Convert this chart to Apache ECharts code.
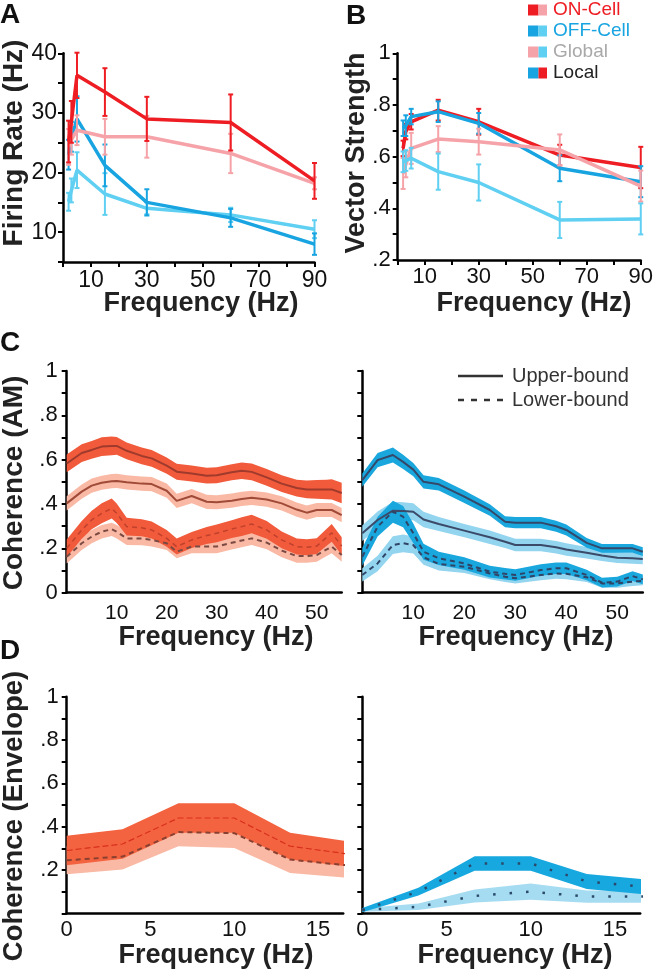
<!DOCTYPE html>
<html><head><meta charset="utf-8">
<script src="https://cdn.jsdelivr.net/npm/echarts@6/dist/echarts.min.js"></script>
<style>html,body{margin:0;padding:0;background:#fff}#c{width:656px;height:972px}</style>
</head><body><div id="c"></div>
<script>
// ---------- Panels A / B ----------
const stimFreqs = [2, 3, 5, 15, 30, 60, 90];
const rateOnLocal = [25.2, 28.5, 36.3, 33.5, 29.0, 28.4, 18.6];
const rateOnLocalErr = [3.5, 3.5, 3.8, 4.0, 3.7, 4.7, 3.0];
const rateOnGlobal = [24.3, 25.5, 27.1, 26.0, 26.0, 23.2, 18.2];
const rateOnGlobalErr = [3.0, 2.5, 2.5, 3.0, 3.5, 3.3, 1.0];
const rateOffLocal = [23.0, 26.0, 29.0, 21.2, 15.0, 12.4, 8.0];
const rateOffLocalErr = [2.5, 2.5, 3.8, 3.5, 2.2, 1.5, 1.8];
const rateOffGlobal = [15.1, 17.0, 20.4, 16.4, 14.0, 12.9, 10.5];
const rateOffGlobalErr = [1.5, 2.0, 3.0, 3.5, 1.0, 1.2, 1.5];

const vsOnLocal = [0.632, 0.697, 0.735, 0.780, 0.735, 0.606, 0.558];
const vsOnLocalErr = [0.03, 0.03, 0.03, 0.04, 0.05, 0.04, 0.08];
const vsOffLocal = [0.710, 0.720, 0.755, 0.774, 0.729, 0.555, 0.503];
const vsOffLocalErr = [0.03, 0.04, 0.03, 0.04, 0.04, 0.05, 0.06];
const vsOnGlobal = [0.535, 0.570, 0.632, 0.668, 0.658, 0.626, 0.486];
const vsOnGlobalErr = [0.06, 0.05, 0.06, 0.05, 0.05, 0.06, 0.06];
const vsOffGlobal = [0.580, 0.585, 0.594, 0.542, 0.500, 0.355, 0.359];
const vsOffGlobalErr = [0.04, 0.04, 0.04, 0.07, 0.07, 0.07, 0.06];

// ---------- Panel C (AM coherence) ----------
const cFreqOn = [0,3,5,7,9,10,12,15,17,20,22,25,28,30,33,35,37,40,43,46,48,50,52,53,55];
const cOnLocalUpper  = [.583,.630,.644,.659,.662,.662,.640,.617,.606,.573,.546,.538,.528,.530,.543,.550,.545,.520,.492,.472,.466,.466,.466,.466,.450];
const cOnGlobalUpper = [.403,.456,.483,.496,.503,.504,.498,.492,.490,.460,.414,.436,.410,.408,.415,.423,.428,.420,.403,.375,.361,.373,.373,.373,.350];
const cOnLocalLower  = [.200,.283,.328,.358,.380,.358,.298,.293,.283,.245,.208,.238,.258,.268,.287,.298,.310,.283,.238,.208,.205,.210,.250,.270,.210];
const cOnGlobalLower = [.162,.223,.253,.275,.286,.275,.245,.244,.238,.223,.185,.208,.208,.208,.225,.235,.245,.226,.190,.165,.165,.170,.195,.208,.170];
const cOnLocalUpperSem  = [.040,.040,.040,.042,.042,.040,.038,.038,.038,.037,.036,.036,.036,.036,.036,.037,.038,.038,.038,.038,.040,.042,.044,.046,.046];
const cOnGlobalUpperSem = [.032,.032,.032,.032,.032,.032,.032,.032,.032,.032,.032,.032,.032,.032,.032,.032,.032,.032,.032,.032,.032,.032,.032,.032,.032];
const cOnLocalLowerSem  = [.040,.040,.042,.045,.045,.044,.040,.038,.038,.038,.036,.036,.038,.040,.040,.042,.042,.040,.038,.036,.036,.036,.038,.040,.040];
const cOnGlobalLowerSem = [.030,.030,.030,.030,.030,.030,.030,.030,.030,.030,.030,.030,.030,.030,.030,.030,.030,.030,.030,.030,.030,.030,.030,.030,.030];

const cFreqOff = [0,3,6,8,10,12,15,20,25,28,30,35,38,40,44,47,50,53,55];
const cOffLocalUpper  = [.508,.598,.621,.590,.555,.500,.489,.433,.373,.320,.316,.316,.300,.283,.225,.200,.200,.200,.185];
const cOffGlobalUpper = [.268,.328,.370,.368,.365,.330,.310,.280,.250,.230,.215,.215,.205,.195,.180,.168,.158,.155,.152];
const cOffLocalLower  = [.162,.298,.365,.343,.268,.185,.155,.132,.095,.085,.080,.102,.110,.110,.080,.045,.050,.075,.060];
const cOffGlobalLower = [.080,.132,.215,.223,.215,.160,.130,.117,.087,.072,.065,.080,.087,.085,.070,.042,.042,.050,.054];
const cOffLocalUpperSem  = [.030,.032,.034,.032,.030,.030,.028,.028,.026,.025,.025,.025,.025,.025,.022,.020,.020,.020,.020];
const cOffGlobalUpperSem = [.035,.038,.040,.040,.038,.035,.032,.030,.030,.028,.028,.028,.028,.028,.026,.025,.024,.024,.024];
const cOffLocalLowerSem  = [.040,.045,.050,.048,.044,.036,.030,.028,.026,.026,.026,.026,.026,.026,.024,.022,.022,.022,.022];
const cOffGlobalLowerSem = [.030,.035,.040,.040,.038,.034,.030,.028,.026,.024,.024,.024,.024,.024,.022,.020,.020,.020,.020];

// ---------- Panel D (envelope coherence) ----------
const dFreq = [0, 3.33, 6.67, 10, 13.33, 16.67];
const dOnLocal = [.290, .320, .440, .440, .310, .275];
const dOnLocalSem = [.068, .068, .068, .068, .062, .058];
const dOnGlobal = [.245, .262, .375, .370, .248, .222];
const dOnGlobalSem = [.065, .060, .065, .068, .062, .058];
const dOffLocal = [.015, .100, .230, .230, .147, .123];
const dOffLocalSem = [.010, .018, .033, .033, .035, .035];
const dOffGlobal = [.015, .030, .080, .100, .077, .077];
const dOffGlobalSem = [.008, .015, .030, .038, .028, .028];

// legend
const legendLabels = ['ON-Cell', 'OFF-Cell', 'Global', 'Local'];
const boundLabels = ['Upper-bound', 'Lower-bound'];

// ---------- colours ----------
const RED = '#ee1d23', PINK = '#f5a3a8', BLUE = '#18a4e0', LBLUE = '#5fcff2';
const C_DARK_R = '#f15b3b', C_LIGHT_R = '#f9b9a5', C_DARK_B = '#19a7de', C_LIGHT_B = '#93d4ef';
const FONT = 'Liberation Sans, Arial, sans-serif';

const chart = echarts.init(document.getElementById('c'), null, {renderer: 'canvas'});

function pairs(xs, ys) { return xs.map((x, i) => [x, ys[i]]); }
function line(g, xs, ys, color, width, type, z) {
  return {type: 'line', xAxisIndex: g, yAxisIndex: g, data: pairs(xs, ys), symbol: 'none',
    lineStyle: {color, width, type: type || 'solid'}, z: z || 5, silent: true, animation: false};
}
function errBars(g, xs, ys, es, color, z) {
  return {type: 'custom', xAxisIndex: g, yAxisIndex: g, z: z || 4, silent: true, animation: false,
    data: xs.map((x, i) => [x, ys[i] - es[i], ys[i] + es[i]]),
    encode: {x: 0, y: [1, 2]},
    renderItem(params, api) {
      const x = api.value(0);
      const lo = api.coord([x, api.value(1)]), hi = api.coord([x, api.value(2)]);
      const w = 2.5, st = {stroke: color, lineWidth: 2};
      return {type: 'group', children: [
        {type: 'line', shape: {x1: lo[0], y1: lo[1], x2: hi[0], y2: hi[1]}, style: st},
        {type: 'line', shape: {x1: lo[0] - w, y1: lo[1], x2: lo[0] + w, y2: lo[1]}, style: st},
        {type: 'line', shape: {x1: hi[0] - w, y1: hi[1], x2: hi[0] + w, y2: hi[1]}, style: st}
      ]};
    }};
}
// shaded band (center +/- half) drawn as one polygon through the axis scales
function band(g, xs, center, half, color, z) {
  return {type: 'custom', xAxisIndex: g, yAxisIndex: g, z, clip: true, silent: true, animation: false,
    data: xs.map((x, i) => [x, center[i] - half[i], center[i] + half[i]]),
    encode: {x: 0, y: [1, 2]},
    renderItem(params, api) {
      if (params.dataIndex !== 0) return null;
      const pts = [];
      for (let i = 0; i < xs.length; i++) pts.push(api.coord([xs[i], center[i] + half[i]]));
      for (let i = xs.length - 1; i >= 0; i--) pts.push(api.coord([xs[i], center[i] - half[i]]));
      return {type: 'polygon', shape: {points: pts}, style: {fill: color}};
    }};
}

const axisLine = {show: true, lineStyle: {color: '#000', width: 2.5}};
function xAxis(g, max, interval, labelFn, opts) {
  return Object.assign({type: 'value', gridIndex: g, min: 0, max, interval,
    axisLine, splitLine: {show: false},
    axisTick: {show: true, length: 5, inside: false, lineStyle: {color: '#000', width: 2}},
    axisLabel: {formatter: labelFn, fontFamily: FONT, fontSize: 22, color: '#111', margin: 6}}, opts || {});
}
function yAxis(g, min, max, interval, labelFn, opts) {
  return Object.assign({type: 'value', gridIndex: g, min, max, interval,
    axisLine, splitLine: {show: false},
    axisTick: {show: true, length: 5, lineStyle: {color: '#000', width: 2}},
    axisLabel: {formatter: labelFn, fontFamily: FONT, fontSize: 22, color: '#111', margin: 7}}, opts || {});
}
const fmtA_y = v => (Math.round(v) % 10 === 0 ? String(Math.round(v)) : '');
const fmtAB_x = v => (Math.round(v) % 20 === 10 ? String(Math.round(v)) : '');
const fmtDec = (showZero) => v => {
  const r = Math.round(v * 10);
  if (r % 2) return '';
  if (r === 0) return showZero ? '0' : '';
  if (r === 10) return '1';
  return '.' + r;
};
const fmtC_x = v => (Math.round(v) % 10 === 0 && v > 0 && Math.abs(v - Math.round(v)) < 1e-6 ? String(Math.round(v)) : '');
const fmtD_x = v => (Math.abs(v - Math.round(v)) < 1e-6 && Math.round(v) % 5 === 0 ? String(Math.round(v)) : '');

const grids = [
  {left: 63, top: 53.3, width: 251.5, height: 208.7},
  {left: 397.7, top: 53.3, width: 245.3, height: 206.7},
  {left: 66.7, top: 371, width: 275, height: 221.7},
  {left: 362.3, top: 371, width: 280.5, height: 221.7},
  {left: 66.7, top: 696.7, width: 276.5, height: 216.6},
  {left: 362.3, top: 696.7, width: 277.9, height: 216.6}
];

const xAxes = [
  xAxis(0, 90, 10, fmtAB_x, {axisLabel: {formatter: fmtAB_x, fontFamily: FONT, fontSize: 23, color: '#111', margin: 7}}),
  xAxis(1, 90, 10, fmtAB_x),
  xAxis(2, 55, 10, fmtC_x, {axisTick: {show: false}, axisLabel: {formatter: fmtC_x, fontFamily: FONT, fontSize: 21, color: '#111', margin: 10}}),
  xAxis(3, 55, 10, fmtC_x, {axisTick: {show: false}, axisLabel: {formatter: fmtC_x, fontFamily: FONT, fontSize: 21, color: '#111', margin: 10}}),
  xAxis(4, 16.5, 5, fmtD_x, {axisTick: {show: false}, axisLabel: {formatter: fmtD_x, fontFamily: FONT, fontSize: 22, color: '#111', margin: 6}}),
  xAxis(5, 16.5, 5, fmtD_x, {axisTick: {show: false}, axisLabel: {formatter: fmtD_x, fontFamily: FONT, fontSize: 22, color: '#111', margin: 6}})
];
const yAxes = [
  yAxis(0, 5, 40, 5, fmtA_y, {axisLabel: {formatter: fmtA_y, fontFamily: FONT, fontSize: 23, color: '#111', margin: 6}}),
  yAxis(1, 0.2, 1, 0.1, fmtDec(false)),
  yAxis(2, 0, 1, 0.1, fmtDec(true), {axisLabel: {formatter: fmtDec(true), fontFamily: FONT, fontSize: 22, color: '#111', margin: 9}}),
  yAxis(3, 0, 1, 0.1, fmtDec(true), {axisLabel: {show: false}}),
  yAxis(4, 0, 1, 0.1, fmtDec(false), {axisLabel: {formatter: fmtDec(false), fontFamily: FONT, fontSize: 22, color: '#111', margin: 8}}),
  yAxis(5, 0, 1, 0.1, fmtDec(false), {axisLabel: {show: false}})
];

const series = [];
// A
series.push(line(0, stimFreqs, rateOffGlobal, LBLUE, 3.5, 'solid', 5), errBars(0, stimFreqs, rateOffGlobal, rateOffGlobalErr, LBLUE, 5));
series.push(line(0, stimFreqs, rateOffLocal, BLUE, 3.5, 'solid', 6), errBars(0, stimFreqs, rateOffLocal, rateOffLocalErr, BLUE, 6));
series.push(line(0, stimFreqs, rateOnGlobal, PINK, 3.5, 'solid', 7), errBars(0, stimFreqs, rateOnGlobal, rateOnGlobalErr, PINK, 7));
series.push(line(0, stimFreqs, rateOnLocal, RED, 3.5, 'solid', 8), errBars(0, stimFreqs, rateOnLocal, rateOnLocalErr, RED, 8));
// B
series.push(line(1, stimFreqs, vsOnLocal, RED, 3.5, 'solid', 5), errBars(1, stimFreqs, vsOnLocal, vsOnLocalErr, RED, 5));
series.push(line(1, stimFreqs, vsOffLocal, BLUE, 3.5, 'solid', 6), errBars(1, stimFreqs, vsOffLocal, vsOffLocalErr, BLUE, 6));
series.push(line(1, stimFreqs, vsOnGlobal, PINK, 3.5, 'solid', 7), errBars(1, stimFreqs, vsOnGlobal, vsOnGlobalErr, PINK, 7));
series.push(line(1, stimFreqs, vsOffGlobal, LBLUE, 3.5, 'solid', 8), errBars(1, stimFreqs, vsOffGlobal, vsOffGlobalErr, LBLUE, 8));
// C left
series.push(band(2, cFreqOn, cOnGlobalUpper, cOnGlobalUpperSem, C_LIGHT_R, 2));
series.push(band(2, cFreqOn, cOnGlobalLower, cOnGlobalLowerSem, C_LIGHT_R, 2));
series.push(band(2, cFreqOn, cOnLocalUpper, cOnLocalUpperSem, C_DARK_R, 3));
series.push(band(2, cFreqOn, cOnLocalLower, cOnLocalLowerSem, C_DARK_R, 3));
series.push(line(2, cFreqOn, cOnLocalUpper, '#a03a2c', 2, 'solid', 6));
series.push(line(2, cFreqOn, cOnGlobalUpper, '#a04a38', 2, 'solid', 6));
series.push(line(2, cFreqOn, cOnLocalLower, '#c0402c', 1.5, [5, 4], 6));
series.push(line(2, cFreqOn, cOnGlobalLower, '#7a4a42', 2, [5, 4], 6));
// C right
series.push(band(3, cFreqOff, cOffGlobalUpper, cOffGlobalUpperSem, C_LIGHT_B, 2));
series.push(band(3, cFreqOff, cOffGlobalLower, cOffGlobalLowerSem, C_LIGHT_B, 2));
series.push(band(3, cFreqOff, cOffLocalUpper, cOffLocalUpperSem, C_DARK_B, 3));
series.push(band(3, cFreqOff, cOffLocalLower, cOffLocalLowerSem, C_DARK_B, 3));
series.push(line(3, cFreqOff, cOffLocalUpper, '#34486a', 2, 'solid', 6));
series.push(line(3, cFreqOff, cOffGlobalUpper, '#3a4a68', 2, 'solid', 6));
series.push(line(3, cFreqOff, cOffLocalLower, '#2f4466', 2, [5, 4], 6));
series.push(line(3, cFreqOff, cOffGlobalLower, '#2f4466', 2, [5, 4], 6));
// D left
series.push(band(4, dFreq, dOnGlobal, dOnGlobalSem, C_LIGHT_R, 2));
series.push(band(4, dFreq, dOnLocal, dOnLocalSem, '#f4633f', 3));
series.push(line(4, dFreq, dOnLocal, '#d8301e', 1.2, [6, 3], 6));
series.push(line(4, dFreq, dOnGlobal, '#8a4030', 2, [5, 4], 6));
// D right
series.push(band(5, dFreq, dOffGlobal, dOffGlobalSem, '#a6dcf1', 2));
series.push(band(5, dFreq, dOffLocal, dOffLocalSem, '#17a8df', 3));
series.push(line(5, dFreq, dOffLocal, '#2b4a6b', 2.5, [2.5, 14], 6));
series.push(line(5, dFreq, dOffGlobal, '#2b4a6b', 2.5, [2.5, 14], 6));

// ---------- text / legend graphics ----------
const titleStyle = (txt, size) => ({text: txt, fontFamily: FONT, fontWeight: 'bold', fontSize: size, fill: '#222', textAlign: 'center', textVerticalAlign: 'middle'});
const graphic = [];
[['A', 0, 15], ['B', 346, 16], ['C', 0, 343], ['D', 0, 651]].forEach(([t, x, y]) => {
  graphic.push({type: 'text', left: x, top: y - 14, style: {text: t, fontFamily: FONT, fontWeight: 'bold', fontSize: 28, fill: '#111'}});
});
[[201, 304], [534, 304], [216, 638], [516, 638], [216, 956], [515, 956]].forEach(([x, y]) => {
  graphic.push({type: 'text', x, y, style: titleStyle('Frequency (Hz)', 27)});
});
[['Firing Rate (Hz)', 14, 143, 28], ['Vector Strength', 357, 153, 27], ['Coherence (AM)', 14, 483, 28], ['Coherence (Envelope)', 14, 816, 27.5]].forEach(([t, x, y, s]) => {
  graphic.push({type: 'text', x, y, rotation: Math.PI / 2, style: titleStyle(t, s)});
});
const legendIcons = [[RED, PINK], [BLUE, LBLUE], [PINK, LBLUE], [BLUE, RED]];
const legendText = [RED, BLUE, '#a9a9a9', '#222'];
legendLabels.forEach((t, i) => {
  const cy = 10 + i * 21;
  graphic.push({type: 'rect', shape: {x: 528, y: cy - 5.5, width: 10.5, height: 11}, style: {fill: legendIcons[i][0]}});
  graphic.push({type: 'rect', shape: {x: 538.5, y: cy - 5.5, width: 8.5, height: 11}, style: {fill: legendIcons[i][1]}});
  graphic.push({type: 'text', x: 553, y: cy, style: {text: t, fontFamily: FONT, fontSize: 19, fill: legendText[i], textVerticalAlign: 'middle'}});
});
boundLabels.forEach((t, i) => {
  const cy = 376 + i * 24;
  graphic.push({type: 'line', shape: {x1: 458, y1: cy, x2: 503, y2: cy}, style: {stroke: '#333', lineWidth: 2.5, lineDash: i ? [6, 7] : null}});
  graphic.push({type: 'text', x: 512, y: cy, style: {text: t, fontFamily: FONT, fontSize: 20, fill: '#333', textVerticalAlign: 'middle'}});
});

chart.setOption({
  animation: false,
  backgroundColor: '#fff',
  grid: grids,
  xAxis: xAxes,
  yAxis: yAxes,
  series,
  graphic
});
</script></body></html>
